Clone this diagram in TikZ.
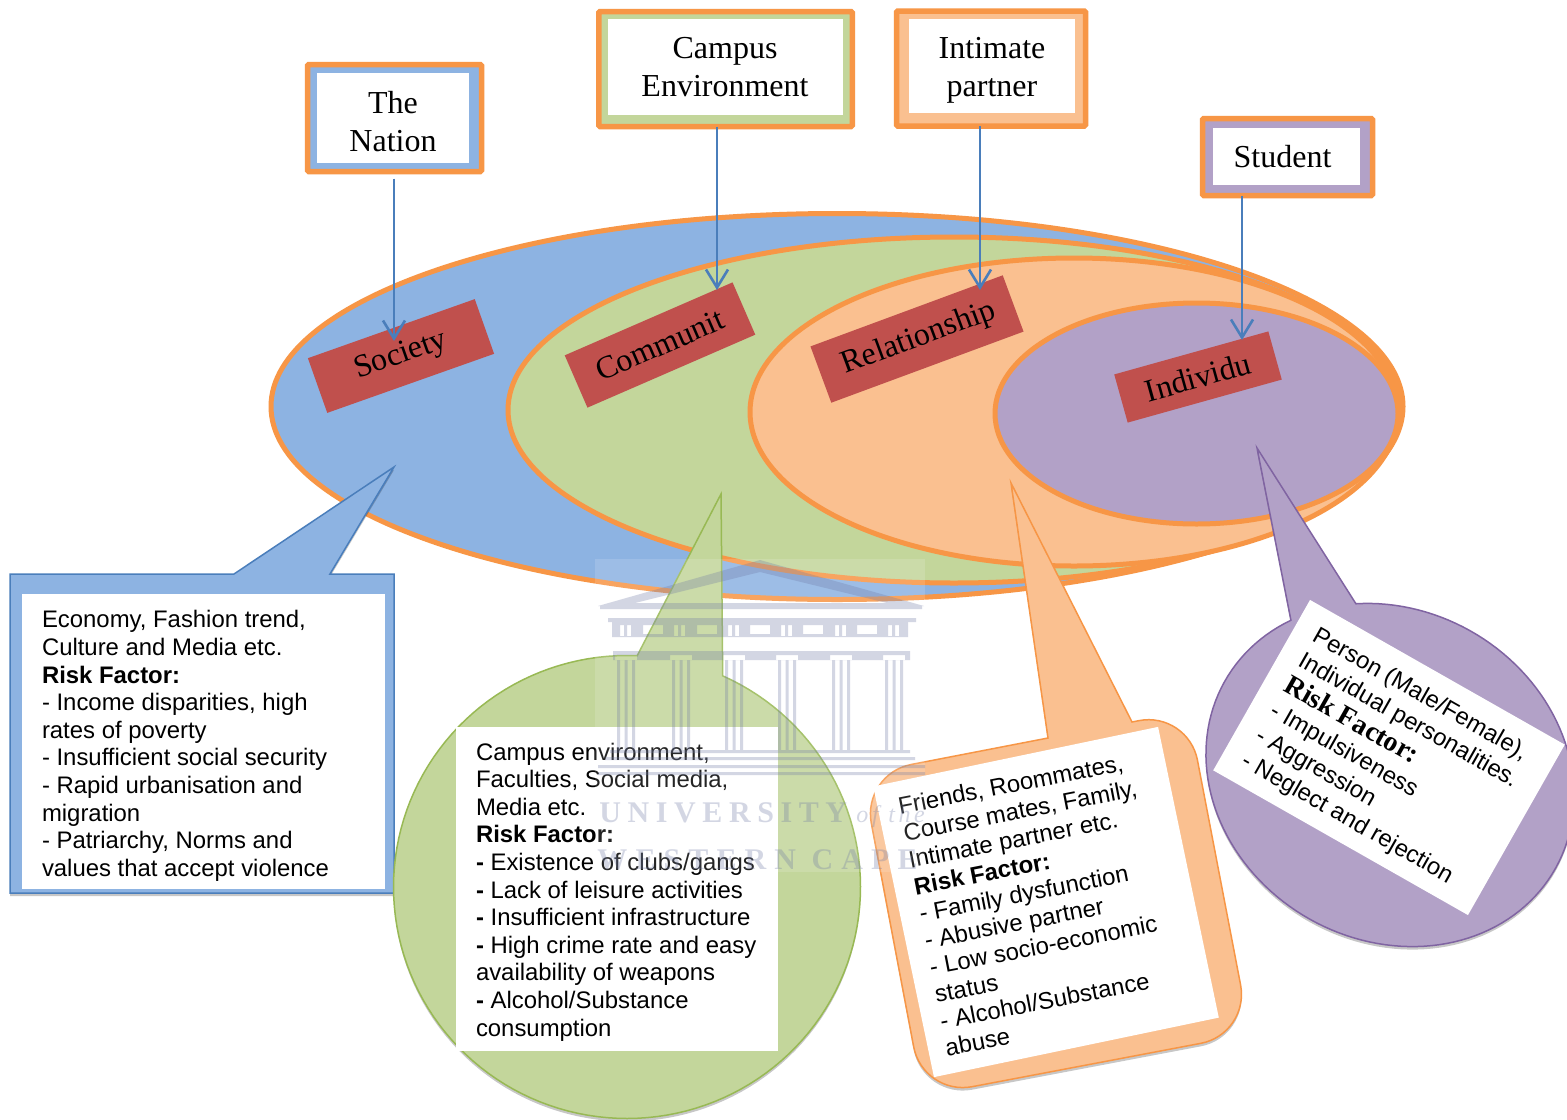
\documentclass[tikz,border=0pt]{standalone}
\usepackage{fontspec}
\setmainfont{Liberation Serif}
\setsansfont{Liberation Sans}
\usetikzlibrary{arrows.meta,shapes.geometric,shadows}
\definecolor{cblue}{HTML}{8DB3E2}
\definecolor{cgreen}{HTML}{C3D69B}
\definecolor{cpeach}{HTML}{FAC090}
\definecolor{cpurple}{HTML}{B2A1C7}
\definecolor{cred}{HTML}{C0504D}
\definecolor{corange}{HTML}{F79646}
\definecolor{cline}{HTML}{4A7EBB}
\definecolor{cgline}{HTML}{98B954}
\definecolor{cvline}{HTML}{8064A2}
\definecolor{wm}{HTML}{6F7AA5}
\tikzset{
  W/.style={minimum width=#1*0.5pt},
  H/.style={minimum height=#1*0.5pt},
  ring/.style={ellipse,draw=corange,line width=2.5pt,inner sep=0pt,outer sep=0pt},
  framebox/.style={rectangle,draw=corange,line width=2.75pt,rounded corners=0.6pt,inner sep=0pt,outer sep=0pt},
  innerbox/.style={rectangle,fill=white,inner sep=0pt,outer sep=0pt},
  boxtext/.style={inner sep=0pt,outer sep=0pt,align=center,font=\fontsize{16}{19}\selectfont},
  redbox/.style={rectangle,fill=cred,inner sep=0pt,outer sep=0pt,font=\fontsize{16}{19}\selectfont},
  conn/.style={draw=cline,line width=1.3pt,-{Straight Barb[length=9pt,width=11pt]}},
  softshadow/.style={drop shadow={shadow xshift=0pt,shadow yshift=-1.5pt,opacity=.22,fill=black}},
  callout/.style={line width=0.75pt,line join=miter,softshadow},
  whitebox/.style={rectangle,fill=white,outer sep=0pt,inner sep=0pt},
  bodytext/.style={inner sep=0pt,outer sep=0pt,align=left,font=\sffamily\fontsize{11.95}{13.8}\selectfont},
  wmfill/.style={fill=wm,even odd rule},
  wmtext/.style={inner sep=0pt,text=wm},
}
\begin{document}
\begin{tikzpicture}[x=0.5pt,y=-0.5pt]
\useasboundingbox (0,0) rectangle (1567,1119);
\fill[white] (0,0) rectangle (1567,1119);

% nested ellipses
\node[ring,fill=cblue,W=1132,H=386] (eSociety) at (837,406.5) {};
\node[ring,fill=cgreen,W=892,H=346] (eCommunity) at (954,410) {};
\node[ring,fill=cpeach,W=648,H=308] (eRelation) at (1074,412) {};
\node[ring,fill=cpurple,W=403,H=221] (eIndividual) at (1196.5,413.5) {};

% red labels
\node[redbox,W=177,H=58,rotate=19.5] (lSociety) at (401,356) {Society};
\node[redbox,W=183,H=57,rotate=23.5] (lCommunity) at (660,345) {Communit};
\node[redbox,W=205,H=60,rotate=20.3] (lRelation) at (917,339) {\hspace{2pt}Relationship};
\node[redbox,W=160,H=50,rotate=15.6] (lIndividual) at (1198,377) {\raisebox{-1.5pt}{Individu}};

% top boxes
\node[framebox,fill=cblue,W=174,H=107] (nation) at (394.5,118) {};
\node[innerbox,W=152,H=90] (nationB) at (393,118) {};
\node[boxtext] (nationT) at (393,122) {The\\Nation};
\node[framebox,fill=cgreen,W=253.5,H=115] (campus) at (725.5,69) {};
\node[innerbox,W=235,H=96] (campusB) at (725,67) {};
\node[boxtext] (campusT) at (725,67) {Campus\\Environment};
\node[framebox,fill=cpeach,W=189,H=115] (intimate) at (991,68.5) {};
\node[innerbox,W=166,H=94] (intimateB) at (992,66) {};
\node[boxtext] (intimateT) at (992,70.5) {Intimate\\partner};
\node[framebox,fill=cpurple,W=170,H=77] (student) at (1287.5,157) {};
\node[innerbox,W=147,H=57] (studentB) at (1286.5,156) {};
\node[boxtext] (studentT) at (1282.5,157) {Student};

% connectors
\coordinate (tipSociety) at (394,341);
\coordinate (tipCommunity) at (717,290);
\coordinate (tipRelation) at (980,290);
\coordinate (tipIndividual) at (1242,340);
\draw[conn,shorten <=3.5pt] (nation.south -| tipSociety) -- (tipSociety);
\draw[conn] (campus.south -| tipCommunity) -- (tipCommunity);
\draw[conn] (intimate.south -| tipRelation) -- (tipRelation);
\draw[conn] (student.south -| tipIndividual) -- (tipIndividual);

% blue callout
\draw[callout,draw=cline,fill=cblue] (10,574) -- (234,574) -- (394,467) -- (330,574) -- (394,574) -- (394,893) -- (10,893) -- cycle;
\node[whitebox,W=363,H=295] (bSociety) at (203.5,741.5) {};
\node[bodytext,anchor=west] (tSociety) at (42,746) {Economy, Fashion trend,\\Culture and Media etc.\\\textbf{Risk Factor:}\\- Income disparities, high\\rates of poverty\\- Insufficient social security\\- Rapid urbanisation and\\migration\\- Patriarchy, Norms and\\values that accept violence};

% green callout
\draw[callout,draw=cgline,fill=cgreen] (721,494) -- plot[variable=\t,domain=-65.8:272.5,samples=140] ({627+233.5*cos(\t)},{887+231.5*sin(\t)}) -- cycle;
\node[whitebox,W=322,H=324] (bCommunity) at (617,889) {};
\node[bodytext,anchor=west] (tCommunity) at (476,892) {Campus environment,\\Faculties, Social media,\\Media etc.\\\textbf{Risk Factor:}\\\textbf{-} Existence of clubs/gangs\\\textbf{-} Lack of leisure activities\\\textbf{-} Insufficient infrastructure\\\textbf{-} High crime rate and easy\\availability of weapons\\\textbf{-} Alcohol/Substance\\consumption};

% peach callout
\draw[callout,draw=corange,fill=cpeach] (1011,483) -- (1048,738) [rounded corners=25pt] -- (862,774) -- (923,1096) -- (1250,1034) -- (1188,711) [sharp corners] -- (1132,722) -- cycle;
\node[whitebox,W=291,H=297,rotate=11.8] (bRelation) at (1046,902) {};
\node[bodytext,anchor=west,rotate=11,font=\sffamily\fontsize{11.95}{13.7}\selectfont] (tRelation) at (922,927) {Friends, Roommates,\\Course mates, Family,\\Intimate partner etc.\\\textbf{Risk Factor:}\\- Family dysfunction\\- Abusive partner\\- Low socio-economic\\status\\- Alcohol/Substance\\abuse};

% purple callout
\begin{scope}
\clip (0,0) rectangle (1567,1119);
\draw[callout,draw=cvline,fill=cpurple] (1257,448) -- plot[variable=\t,domain=-127.3:210.8,samples=140] ({1390+190*cos(\t)*cos(30)-165*sin(\t)*sin(30)},{775+190*cos(\t)*sin(30)+165*sin(\t)*cos(30)}) -- cycle;
\end{scope}
\node[whitebox,W=293,H=196,rotate=-29.6] (bIndividual) at (1389,757.5) {};
\node[bodytext,anchor=west,rotate=-29.6,font=\sffamily\fontsize{11.95}{14.4}\selectfont] (tIndividual) at (1278.5,697.5) {Person (Male/Female),\\Individual personalities.\\{\rmfamily\bfseries\fontsize{14}{14.4}\selectfont Risk Factor:}\\- Impulsiveness\\- Aggression\\- Neglect and rejection};

% watermark
\fill[white,opacity=.14] (595,559) rectangle (925,872);
\begin{scope}[transparency group,opacity=.3]
  \fill[wmfill] (598,606) -- (760,560) -- (924,606) -- cycle (635,603) -- (760,572) -- (887,603) -- cycle;
  \fill[wm] (600,606) rectangle (922,609);
  \fill[wm] (608,618) rectangle (916,622);
  \fill[wmfill] (612,622) rectangle (908,637)
    foreach \a in {643,697,750,803,857} {(\a,625) rectangle ({\a+20},634)}
    foreach \a in {620,627,674,681,728,735,781,788,835,842,888,895} {(\a,625) rectangle ({\a+4},636)};
  \fill[wmfill] (613,651) rectangle (910,660)
    foreach \a in {626,681,734,787,841,894} {({\a-11},655) rectangle ({\a+11},660)};
  \foreach \a in {626,681,734,787,841,894} {
    \fill[wm] ({\a-9},660) rectangle ({\a-6},750);
    \fill[wm] ({\a-1.5},660) rectangle ({\a+1.5},750);
    \fill[wm] ({\a+6},660) rectangle ({\a+9},750);
  }
  \fill[wm] (610,750) rectangle (910,753);
  \fill[wm] (605,757) rectangle (915,760);
  \fill[wm] (598,765) rectangle (925,768);
  \fill[wm] (598,772) rectangle (925,775);
  \node[wmtext,anchor=base west,font=\bfseries\fontsize{15}{18}\selectfont\addfontfeature{LetterSpace=22}] (wmUni) at (599,822) {UNIVERSITY};
  \node[wmtext,anchor=base west,font=\itshape\fontsize{12}{14}\selectfont\addfontfeature{LetterSpace=15}] (wmOf) at (856,822) {of the};
  \node[wmtext,anchor=base west,font=\bfseries\fontsize{15}{18}\selectfont\addfontfeature{LetterSpace=27}] (wmCape) at (597,869) {WESTERN CAPE};
\end{scope}
\end{tikzpicture}
\end{document}
